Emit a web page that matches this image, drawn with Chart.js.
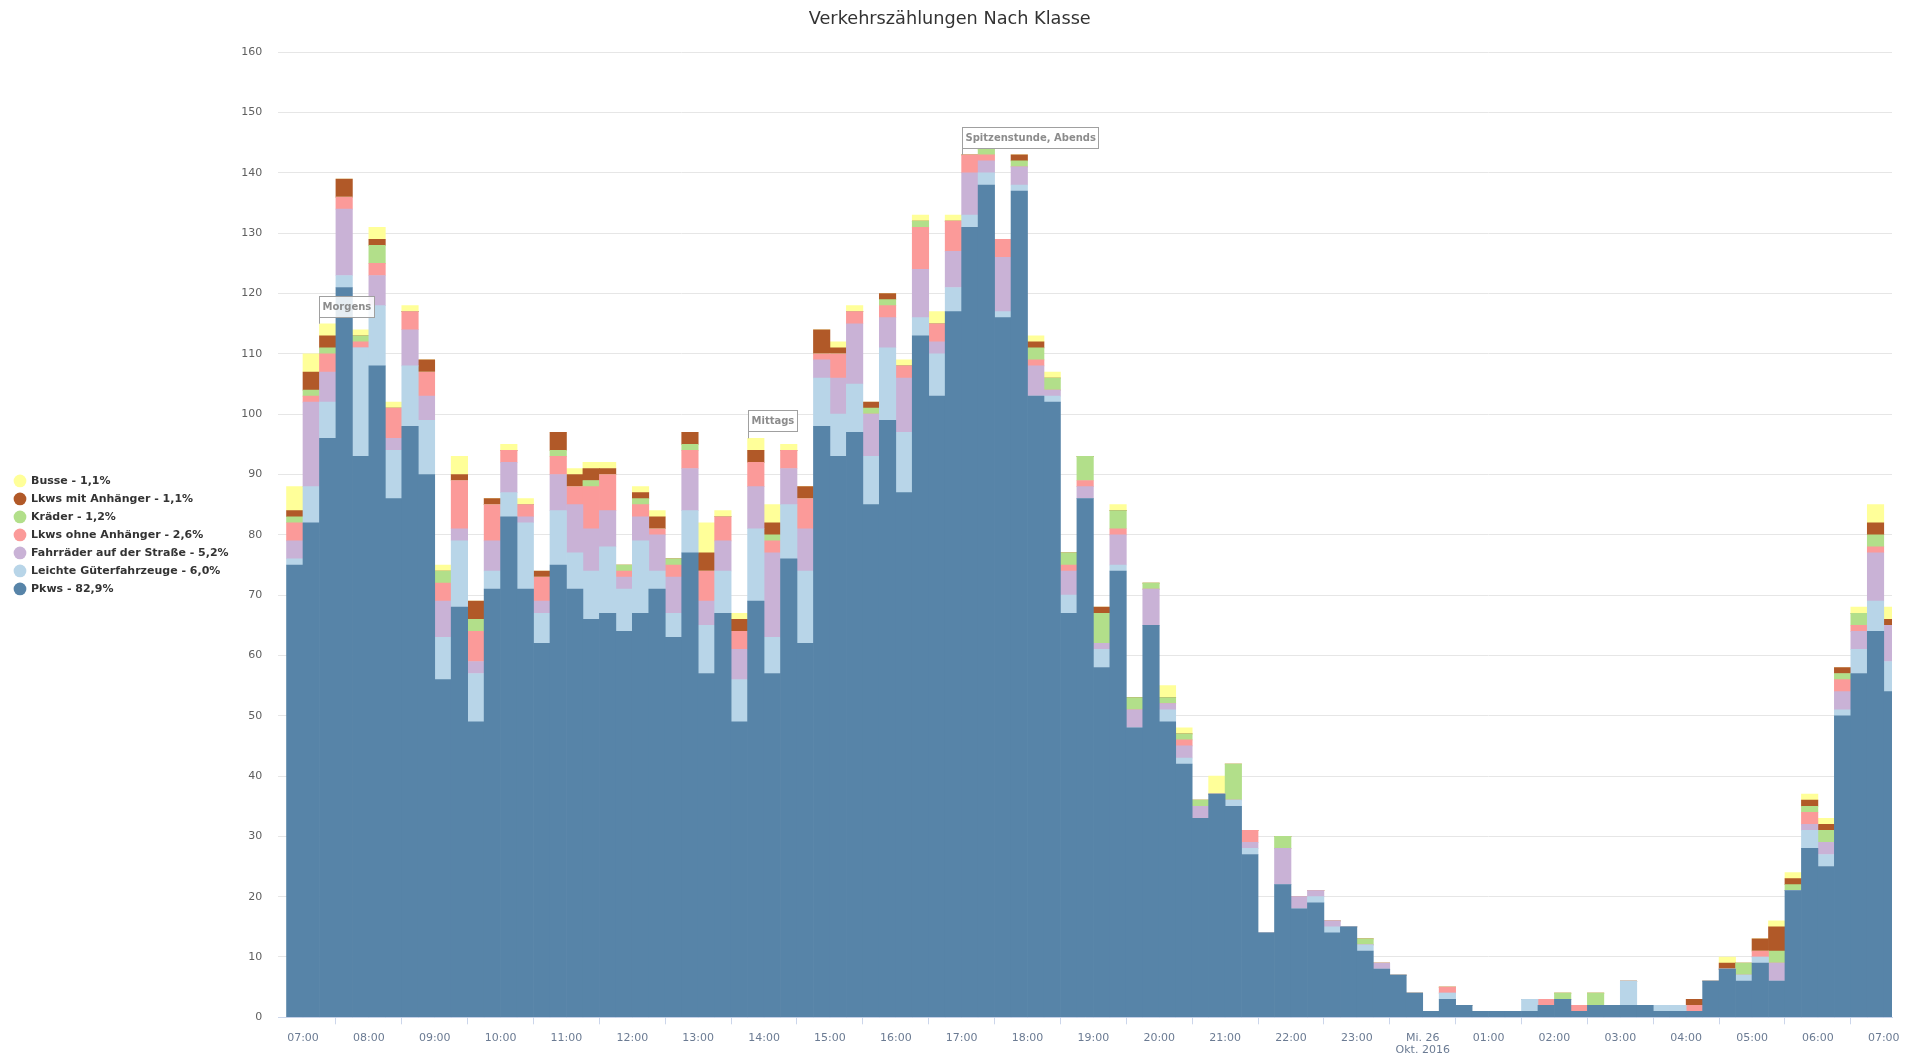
<!DOCTYPE html>
<html>
<head>
<meta charset="utf-8">
<script src="https://cdn.jsdelivr.net/npm/chart.js@4.4.1/dist/chart.umd.min.js"></script>
<style>
html,body{margin:0;padding:0;background:#ffffff;overflow:hidden}
#c{display:block;width:1908px;height:1057px}
</style>
</head>
<body>
<canvas id="c" width="1908" height="1057"></canvas>
<script>
// ---- data: one value per 15-minute slot (98 slots, first slot ends at 07:00) ----
const pkws = [75,82,96,121,93,108,86,98,90,56,
  68,49,71,83,71,62,75,71,66,67,
  64,67,71,63,77,57,67,49,69,57,
  76,62,98,93,97,85,99,87,113,103,
  117,131,138,116,137,103,102,67,86,58,
  74,48,65,49,42,33,37,35,27,14,
  22,18,19,14,15,11,8,7,4,1,
  3,2,1,1,1,1,2,3,1,2,
  2,2,2,1,1,1,6,8,6,9,
  6,21,28,25,50,57,64,54];
const leichteGueter = [1,6,6,2,18,10,8,10,9,7,
  11,8,3,4,11,5,9,6,8,11,
  7,12,3,4,7,8,7,7,12,6,
  9,12,8,7,8,8,12,10,3,7,
  4,2,2,1,1,0,1,3,0,3,
  1,0,0,2,1,0,0,1,1,0,
  0,0,1,1,0,1,0,0,0,0,
  1,0,0,0,0,2,0,0,0,0,
  0,4,0,1,1,0,0,0,1,1,
  0,0,3,2,1,4,5,5];
const fahrraeder = [3,14,5,11,0,5,2,6,4,6,
  2,2,5,5,1,2,6,8,7,6,
  2,4,6,6,7,4,5,5,7,14,
  6,7,3,6,10,7,5,9,8,2,
  6,7,2,9,3,5,1,4,2,1,
  5,3,6,1,2,2,0,0,1,0,
  6,2,1,1,0,0,1,0,0,0,
  0,0,0,0,0,0,0,0,0,0,
  0,0,0,0,0,0,0,0,0,0,
  3,0,1,2,3,3,8,6];
const lkwsOhne = [3,1,3,2,1,2,5,3,4,3,
  8,5,6,2,2,4,3,3,7,6,
  1,2,1,2,3,5,4,3,4,2,
  3,5,1,4,2,0,2,2,7,3,
  5,3,1,3,0,1,0,1,1,0,
  1,0,0,0,1,0,0,0,2,0,
  0,0,0,0,0,0,0,0,0,0,
  1,0,0,0,0,0,1,0,1,0,
  0,0,0,0,0,1,0,0,0,1,
  0,0,2,0,2,1,1,0];
const kraeder = [1,1,1,0,1,3,0,0,0,2,
  0,2,0,0,0,0,1,0,1,0,
  1,1,0,1,1,0,0,0,0,1,
  0,0,0,0,0,1,1,0,1,0,
  0,0,1,0,1,2,2,2,4,5,
  3,2,1,1,1,1,0,6,0,0,
  2,0,0,0,0,1,0,0,0,0,
  0,0,0,0,0,0,0,1,0,2,
  0,0,0,0,0,0,0,0,2,0,
  2,1,1,2,1,2,2,0];
const lkwsMit = [1,3,2,3,0,1,0,0,2,0,
  1,3,1,0,0,1,3,2,2,1,
  0,1,2,0,2,3,0,2,2,2,
  0,2,4,1,0,1,1,0,0,0,
  0,0,0,0,1,1,0,0,0,1,
  0,0,0,0,0,0,0,0,0,0,
  0,0,0,0,0,0,0,0,0,0,
  0,0,0,0,0,0,0,0,0,0,
  0,0,0,0,0,1,0,1,0,2,
  4,1,1,1,1,0,2,1];
const busse = [4,3,2,0,1,2,1,1,0,1,
  3,0,0,1,1,0,0,1,1,1,
  0,1,1,0,0,5,1,1,2,3,
  1,0,0,1,1,0,0,1,1,2,
  1,0,0,0,0,1,1,0,0,0,
  1,0,0,2,1,0,3,0,0,0,
  0,0,0,0,0,0,0,0,0,0,
  0,0,0,0,0,0,0,0,0,0,
  0,0,0,0,0,0,0,1,0,0,
  1,1,1,1,0,1,3,2];

const seriesLabels = ['Pkws - 82,9%','Leichte Güterfahrzeuge - 6,0%','Fahrräder auf der Straße - 5,2%',
  'Lkws ohne Anhänger - 2,6%','Kräder - 1,2%','Lkws mit Anhänger - 1,1%','Busse - 1,1%'];
const seriesValues = [pkws, leichteGueter, fahrraeder, lkwsOhne, kraeder, lkwsMit, busse];
const seriesColors = ['#5784a8','#b8d5e8','#c9b2d6','#fb9a99','#b2df8a','#b15928','#ffff99'];

const hourTickLabels = ['07:00','08:00','09:00','10:00','11:00','12:00','13:00','14:00','15:00',
  '16:00','17:00','18:00','19:00','20:00','21:00','22:00','23:00',['Mi. 26','Okt. 2016'],
  '01:00','02:00','03:00','04:00','05:00','06:00','07:00'];

const annotationTexts = ['Morgens','Mittags','Spitzenstunde, Abends'];
const annotationSlots = [2, 28, 41];

// ---- chart ----
const datasets = seriesValues.map((vals, k) => ({
  label: seriesLabels[k],
  data: vals.map((v, i) => ({x: i, y: v})),
  backgroundColor: seriesColors[k],
  borderWidth: 0,
  categoryPercentage: 1,
  barPercentage: 1,
  stack: 'all'
}));

const annotationPlugin = {
  id: 'callouts',
  afterDatasetsDraw(chart) {
    const ctx = chart.ctx;
    const xs = chart.scales.x, ys = chart.scales.y;
    ctx.save();
    ctx.font = 'bold 10px "DejaVu Sans"';
    ctx.textBaseline = 'middle';
    annotationSlots.forEach((slot, k) => {
      const total = seriesValues.reduce((s, arr) => s + arr[slot], 0);
      const px = Math.round(xs.getPixelForValue(slot - 0.5)) + 0.5;
      const py = ys.getPixelForValue(total);
      const text = annotationTexts[k];
      const tw = ctx.measureText(text).width;
      const w = Math.round(tw + 6);
      const h = 21;
      const bottom = Math.round(py - 7) + 0.5;
      const top = bottom - h;
      ctx.beginPath();
      ctx.moveTo(px, py);
      ctx.lineTo(px, bottom);
      ctx.strokeStyle = '#a0a0a0';
      ctx.lineWidth = 1;
      ctx.stroke();
      ctx.fillStyle = 'rgba(255,255,255,0.85)';
      ctx.fillRect(px, top, w, h);
      ctx.strokeRect(px, top, w, h);
      ctx.fillStyle = '#8c8c8c';
      ctx.textAlign = 'left';
      ctx.fillText(text, px + 3, top + h / 2);
    });
    ctx.restore();
  }
};

const PLOT_LEFT = 278.3;

new Chart(document.getElementById('c'), {
  type: 'bar',
  data: { datasets },
  plugins: [annotationPlugin],
  options: {
    responsive: false,
    devicePixelRatio: 1,
    animation: false,
    layout: { padding: { left: 7.5, right: 16, top: 9, bottom: 0 } },
    plugins: {
      title: {
        display: true,
        text: 'Verkehrszählungen Nach Klasse',
        color: '#333333',
        font: { family: 'DejaVu Sans', size: 17.7, weight: 'normal' },
        padding: { top: 0, bottom: 22.06 }
      },
      legend: {
        position: 'left',
        align: 'center',
        reverse: true,
        title: { display: true, text: '', padding: 0, font: { size: 3.3 } },
        labels: {
          usePointStyle: true,
          pointStyle: 'circle',
          boxHeight: 9,
          padding: 7,
          color: '#333333',
          font: { family: 'DejaVu Sans', size: 11, weight: 'bold' }
        }
      },
      tooltip: { enabled: false }
    },
    scales: {
      x: {
        type: 'linear',
        min: -1,
        max: 97,
        stacked: true,
        offset: false,
        afterBuildTicks: s => { s.ticks = hourTickLabels.map((l, k) => ({ value: 0.5 + 4 * k })); },
        afterFit: s => { s.height = 39.7; },
        ticks: {
          autoSkip: false, maxRotation: 0, minRotation: 0,
          color: '#6b7b93',
          padding: 7.5,
          font: { family: 'DejaVu Sans', size: 11, lineHeight: 1.1 },
          callback: (v, i) => hourTickLabels[i]
        },
        grid: { display: true, drawOnChartArea: false, drawTicks: true, tickLength: 7, color: '#ccd6eb', tickColor: '#ccd6eb' },
        border: { display: true, color: '#ccd6eb' }
      },
      y: {
        stacked: true,
        min: 0,
        max: 160,
        afterFit: s => {
          const lw = (s.chart.legend && s.chart.legend.width) ? s.chart.legend.width : 238;
          s.width = PLOT_LEFT - 7.5 - lw;
        },
        ticks: {
          stepSize: 10,
          color: '#606060',
          padding: 16,
          font: { family: 'DejaVu Sans', size: 11 }
        },
        grid: { color: '#e6e6e6', drawTicks: false },
        border: { display: false }
      }
    }
  }
});
</script>
</body>
</html>
